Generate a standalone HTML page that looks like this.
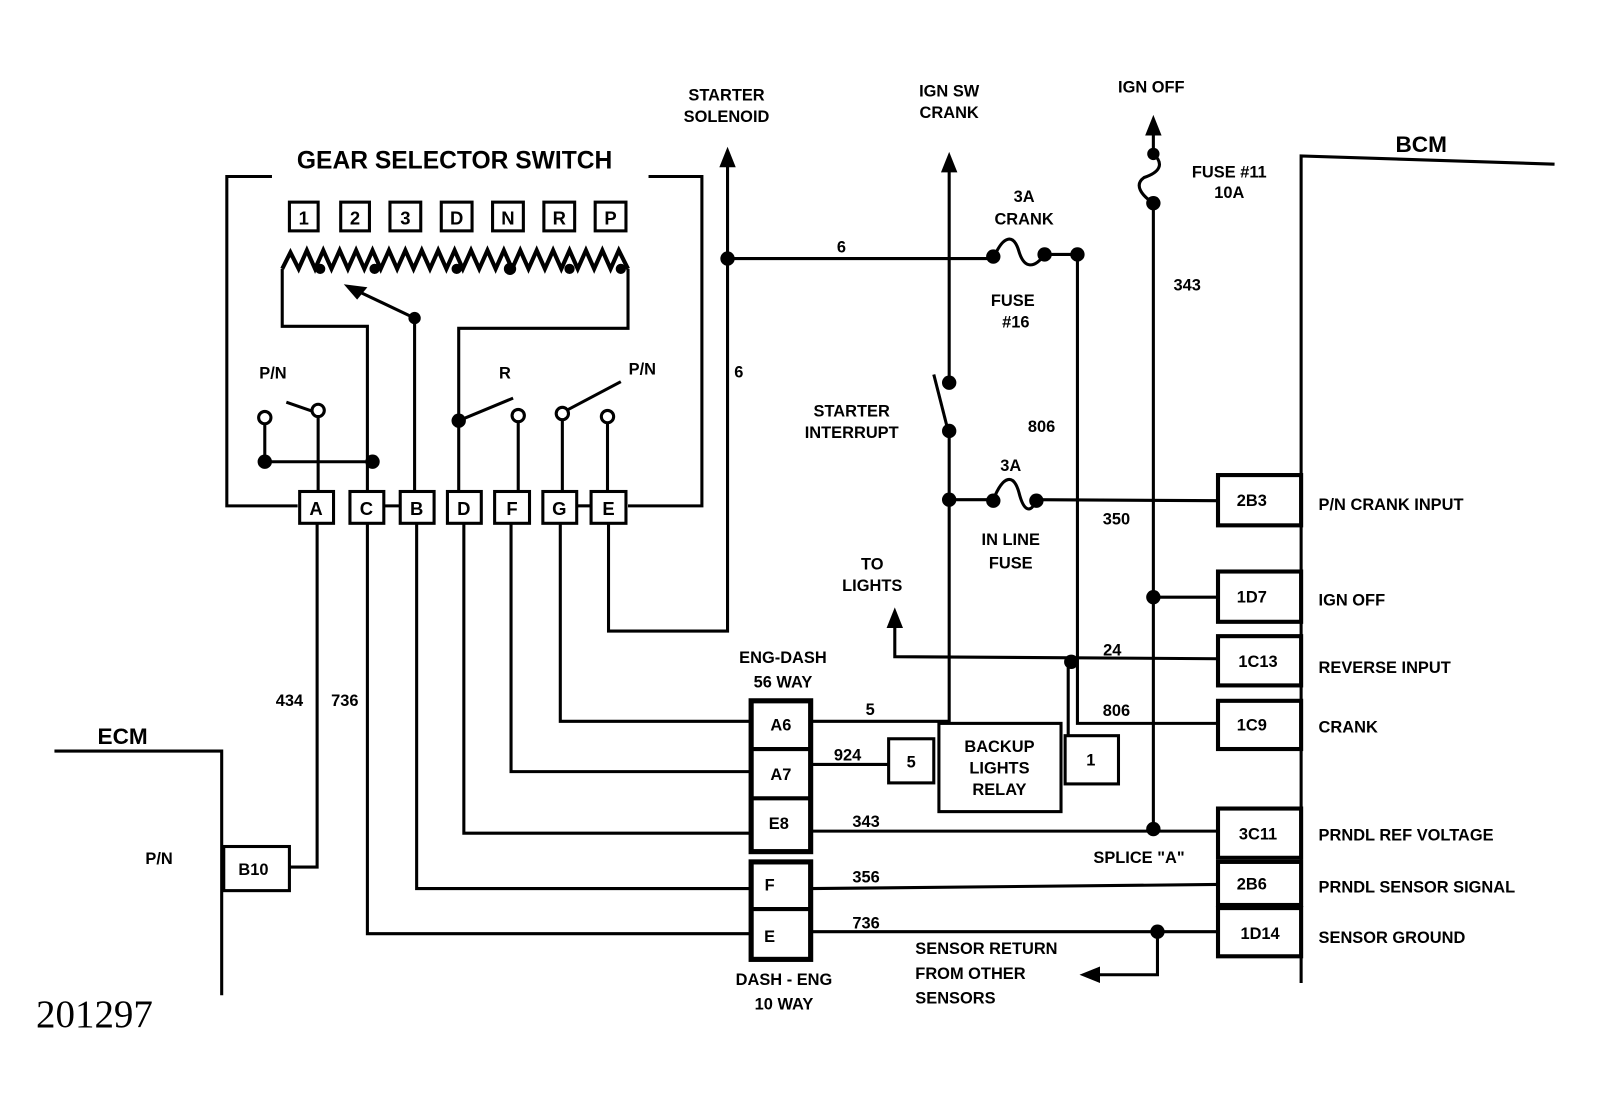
<!DOCTYPE html>
<html><head><meta charset="utf-8"><style>
html,body{margin:0;padding:0;background:#fff;}
svg{display:block}
text{font-family:"Liberation Sans",sans-serif;font-weight:bold;fill:#000}
</style></head><body>
<svg width="1609" height="1102" viewBox="0 0 1568 1074" xmlns="http://www.w3.org/2000/svg">
<g fill="none" stroke="#000" stroke-width="3">
<polyline points="265,172 221,172 221,493 290,493"/>
<polyline points="632,172 684,172 684,493 612,493"/>
<polyline stroke-width="4" points="275,262 283,246 291,262 299,244 307,262 315,244 323,262 331,244 339,262 347,244 355,262 363,244 371,262 379,244 387,262 395,244 403,262 411,244 419,262 427,244 435,262 443,244 451,262 459,244 467,262 475,244 483,262 491,244 499,262 507,244 515,262 523,244 531,262 539,244 547,262 555,244 563,262 571,244 579,262 587,244 595,262 603,244 612,262"/>
<polyline points="275,262 275,318 358,318 358,480"/>
<polyline points="612,262 612,320 447,320 447,480"/>
<line x1="404" y1="310" x2="404" y2="480"/>
<line x1="404" y1="310" x2="345" y2="282"/>
<line x1="279" y1="392" x2="305" y2="401"/>
<line x1="258" y1="413" x2="258" y2="450"/>
<line x1="258" y1="450" x2="363" y2="450"/>
<line x1="310" y1="406" x2="310" y2="480"/>
<line x1="447" y1="410" x2="500" y2="388"/>
<line x1="505" y1="411" x2="505" y2="480"/>
<line x1="552" y1="400" x2="605" y2="372"/>
<line x1="548" y1="409" x2="548" y2="480"/>
<line x1="592" y1="412" x2="592" y2="480"/>
<line x1="374" y1="493" x2="390" y2="493"/>
<line x1="562" y1="493" x2="576" y2="493"/>
<polyline points="309,510 309,845 282,845"/>
<polyline points="358,510 358,910 732,910"/>
<polyline points="406,510 406,866 732,866"/>
<polyline points="452,510 452,812 732,812"/>
<polyline points="498,510 498,752 732,752"/>
<polyline points="546,510 546,703 732,703"/>
<polyline points="593,510 593,615 709,615 709,158"/>
<polyline points="53,732 216,732 216,970"/>
<line x1="709" y1="252" x2="968" y2="252"/>
<path d="M968,252 C978,228 988,228 993,245 C998,262 1008,262 1018,248"/>
<line x1="1018" y1="248" x2="1050" y2="248"/>
<polyline points="1050,248 1050,705 1187,705"/>
<line x1="925" y1="160" x2="925" y2="373"/>
<line x1="910" y1="365" x2="924" y2="420"/>
<polyline points="925,420 925,703 790,703"/>
<line x1="925" y1="487" x2="968" y2="487"/>
<path d="M968,487 C978,462 988,462 993,480 C998,500 1005,500 1010,487"/>
<line x1="1010" y1="487" x2="1187" y2="488"/>
<line x1="1124" y1="128" x2="1124" y2="150"/>
<path d="M1124,150 C1135,160 1130,168 1115,173 C1105,180 1112,190 1124,198"/>
<line x1="1124" y1="198" x2="1124" y2="810"/>
<line x1="1124" y1="582" x2="1187" y2="582"/>
<polyline points="872,605 872,640 1187,642"/>
<polyline points="1041,645 1041,717"/>
<line x1="790" y1="745" x2="866" y2="745"/>
<line x1="790" y1="810" x2="1187" y2="810"/>
<line x1="790" y1="866" x2="1187" y2="862"/>
<line x1="790" y1="908" x2="1187" y2="908"/>
<polyline points="1128,908 1128,950 1065,950"/>
<polyline points="1515,160 1268,152 1268,958"/>
</g>
<g fill="#fff" stroke="#000" stroke-width="3">
<rect x="282" y="197" width="28" height="28"/><rect x="332" y="197" width="28" height="28"/>
<rect x="380" y="197" width="30" height="28"/><rect x="430" y="197" width="30" height="28"/>
<rect x="480" y="197" width="30" height="28"/><rect x="530" y="197" width="30" height="28"/>
<rect x="580" y="197" width="30" height="28"/>
<rect x="292" y="479" width="33" height="31"/><rect x="341" y="479" width="33" height="31"/>
<rect x="390" y="479" width="33" height="31"/><rect x="436" y="479" width="33" height="31"/>
<rect x="482" y="479" width="34" height="31"/><rect x="529" y="479" width="33" height="31"/>
<rect x="576" y="479" width="34" height="31"/>
<rect x="218" y="825" width="64" height="43"/>
<rect x="732" y="683" width="58" height="147" stroke-width="5"/>
<line x1="732" y1="730" x2="790" y2="730" stroke-width="4"/>
<line x1="732" y1="778" x2="790" y2="778" stroke-width="4"/>
<rect x="732" y="840" width="58" height="95" stroke-width="5"/>
<line x1="732" y1="886" x2="790" y2="886" stroke-width="4"/>
<rect x="866" y="720" width="44" height="43"/>
<rect x="915" y="705" width="119" height="86"/>
<rect x="1038" y="717" width="52" height="47"/>
<rect x="1187" y="463" width="81" height="49" stroke-width="4"/>
<rect x="1187" y="557" width="81" height="49" stroke-width="4"/>
<rect x="1187" y="620" width="81" height="48" stroke-width="4"/>
<rect x="1187" y="683" width="81" height="47" stroke-width="4"/>
<rect x="1187" y="788" width="81" height="48" stroke-width="4"/>
<rect x="1187" y="840" width="81" height="42" stroke-width="4"/>
<rect x="1187" y="885" width="81" height="47" stroke-width="4"/>
<circle cx="258" cy="407" r="6"/><circle cx="310" cy="400" r="6"/>
<circle cx="505" cy="405" r="6"/><circle cx="548" cy="403" r="6"/><circle cx="592" cy="406" r="6"/>
</g>
<g fill="#000">
<circle cx="404" cy="310" r="6"/><circle cx="258" cy="450" r="7"/><circle cx="363" cy="450" r="7"/>
<circle cx="447" cy="410" r="7"/>
<circle cx="312" cy="262" r="5"/><circle cx="365" cy="262" r="5"/><circle cx="445" cy="262" r="5"/><circle cx="497" cy="262" r="6"/><circle cx="555" cy="262" r="5"/><circle cx="605" cy="262" r="5"/>
<circle cx="709" cy="252" r="7"/><circle cx="968" cy="250" r="7"/><circle cx="1018" cy="248" r="7"/><circle cx="1050" cy="248" r="7"/>
<circle cx="925" cy="373" r="7"/><circle cx="925" cy="420" r="7"/><circle cx="925" cy="487" r="7"/>
<circle cx="968" cy="488" r="7"/><circle cx="1010" cy="488" r="7"/>
<circle cx="1124" cy="150" r="6"/><circle cx="1124" cy="198" r="7"/><circle cx="1124" cy="582" r="7"/>
<circle cx="1124" cy="808" r="7"/><circle cx="1044" cy="645" r="7"/><circle cx="1128" cy="908" r="7"/>
<polygon points="335,277 358,280 348,292"/>
<polygon points="709,143 701,163 717,163"/>
<polygon points="925,148 917,168 933,168"/>
<polygon points="1124,112 1116,132 1132,132"/>
<polygon points="872,592 864,612 880,612"/>
<polygon points="1052,950 1072,942 1072,958"/>
</g>
<g font-size="24" text-anchor="middle">
<text x="443" y="164">GEAR SELECTOR SWITCH</text>
</g>
<g font-size="18" text-anchor="middle">
<text x="296" y="219">1</text><text x="346" y="219">2</text><text x="395" y="219">3</text><text x="445" y="219">D</text><text x="495" y="219">N</text><text x="545" y="219">R</text><text x="595" y="219">P</text>
<text x="308" y="502">A</text><text x="357" y="502">C</text><text x="406" y="502">B</text><text x="452" y="502">D</text><text x="499" y="502">F</text><text x="545" y="502">G</text><text x="593" y="502">E</text>
</g>
<g font-size="16" text-anchor="middle">
<text x="266" y="369">P/N</text><text x="492" y="369">R</text><text x="626" y="365">P/N</text>
<text x="708" y="98">STARTER</text><text x="708" y="119">SOLENOID</text>
<text x="925" y="94">IGN SW</text><text x="925" y="115">CRANK</text>
<text x="1122" y="90">IGN OFF</text>
<text x="1198" y="173">FUSE #11</text><text x="1198" y="193">10A</text>
<text x="998" y="197">3A</text><text x="998" y="219">CRANK</text>
<text x="987" y="298">FUSE</text><text x="990" y="319">#16</text>
<text x="820" y="246">6</text><text x="720" y="368">6</text><text x="1157" y="283">343</text>
<text x="830" y="406">STARTER</text><text x="830" y="427">INTERRUPT</text>
<text x="1015" y="421">806</text><text x="985" y="459">3A</text>
<text x="1088" y="511">350</text>
<text x="985" y="531">IN LINE</text><text x="985" y="554">FUSE</text>
<text x="850" y="555">TO</text><text x="850" y="576">LIGHTS</text>
<text x="1084" y="639">24</text><text x="1088" y="698">806</text>
<text x="763" y="646">ENG-DASH</text><text x="763" y="670">56 WAY</text>
<text x="848" y="697">5</text><text x="826" y="741">924</text><text x="844" y="806">343</text>
<text x="844" y="860">356</text><text x="844" y="905">736</text>
<text x="761" y="712">A6</text><text x="761" y="760">A7</text><text x="759" y="808">E8</text>
<text x="750" y="868">F</text><text x="750" y="918">E</text>
<text x="888" y="748">5</text><text x="1063" y="746">1</text>
<text x="974" y="733">BACKUP</text><text x="974" y="754">LIGHTS</text><text x="974" y="775">RELAY</text>
<text x="764" y="960">DASH - ENG</text><text x="764" y="984">10 WAY</text>
<text x="1110" y="841">SPLICE  "A"</text>
<text x="282" y="688">434</text><text x="336" y="688">736</text>
<text x="155" y="842">P/N</text><text x="247" y="853">B10</text>
<text x="1220" y="493">2B3</text><text x="1220" y="587">1D7</text><text x="1226" y="650">1C13</text>
<text x="1220" y="712">1C9</text><text x="1226" y="818">3C11</text><text x="1220" y="867">2B6</text><text x="1228" y="915">1D14</text>
</g>
<g font-size="16" text-anchor="start">
<text x="1285" y="497">P/N CRANK INPUT</text>
<text x="1285" y="590">IGN OFF</text>
<text x="1285" y="656">REVERSE INPUT</text>
<text x="1285" y="714">CRANK</text>
<text x="1285" y="819">PRNDL REF VOLTAGE</text>
<text x="1285" y="870">PRNDL SENSOR SIGNAL</text>
<text x="1285" y="919">SENSOR GROUND</text>
<text x="892" y="930">SENSOR RETURN</text>
<text x="892" y="954">FROM OTHER</text>
<text x="892" y="978">SENSORS</text>
</g>
<text x="95" y="725" font-size="22">ECM</text>
<text x="1360" y="148" font-size="22">BCM</text>
<text x="35" y="1001" font-size="38" style="font-family:'Liberation Serif',serif;font-weight:normal">201297</text>
</svg>
</body></html>
